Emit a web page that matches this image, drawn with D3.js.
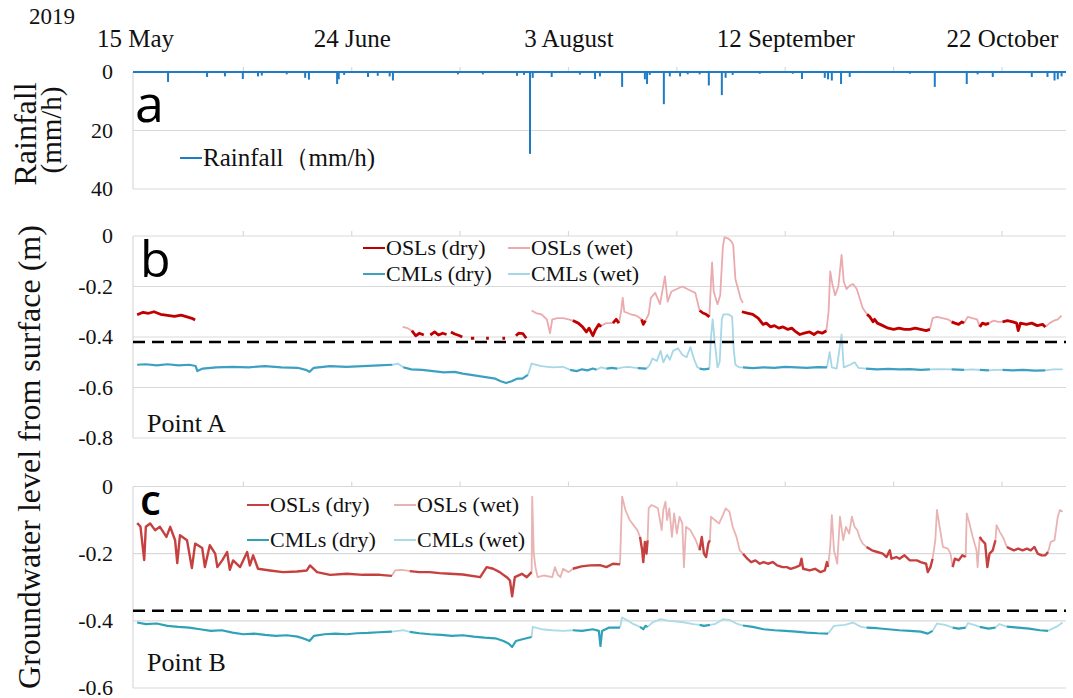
<!DOCTYPE html>
<html>
<head>
<meta charset="utf-8">
<script src="https://cdn.jsdelivr.net/npm/d3@7"></script>
<style>
  body { margin: 0; background: #fff; }
  svg { display: block; }
</style>
</head>
<body>
<svg id="chart" width="1073" height="698"></svg>
<script>
// ---- Time axis (days after 15 May 2019) ----
const dateTickDays = [0, 40, 80, 120, 160];
const dateTickLabels = ["15 May", "24 June", "3 August", "12 September", "22 October"];
const minorTickDays = [0, 20, 40, 60, 80, 100, 120, 140, 160];

// ---- Value axes ----
const rainTicks = [0, 20, 40];
const levelTicksA = [0, -0.2, -0.4, -0.6, -0.8];
const levelTicksB = [0, -0.2, -0.4, -0.6];

// Reference depth lines (m)
const thresholdA = -0.42;
const thresholdB = -0.37;

// ---- Hourly rainfall peaks [day, mm/h] ----
const rainfall = [
  [6.1,3.4],[13.3,1.7],[16.6,1.5],[19.9,2.4],[22.7,1.5],[23.4,1.2],[28.0,0.8],
  [31.4,2.0],[32.1,2.6],[37.3,4.1],[37.6,2.5],[38.6,1.0],[43.0,1.7],[44.8,1.3],
  [47.0,1.5],[47.6,2.9],[59.6,0.8],[64.2,0.8],[70.5,1.3],[71.8,1.0],[72.9,28],
  [73.4,2.0],[76.9,1.7],[82.1,0.9],[84.9,2.4],[85.8,1.5],[89.9,5.1],[94.1,2.5],
  [94.5,4.1],[95.0,1.0],[97.6,11],[98.7,1.5],[100.6,1.5],[102.0,0.8],[104.2,0.8],
  [105.9,4.6],[108.3,7.9],[109.0,2.0],[110.3,1.0],[115.3,0.6],[121.4,0.6],[123.1,2.4],
  [127.3,2.0],[127.9,2.5],[128.6,2.9],[130.3,4.1],[131.9,1.7],[143.0,0.6],[147.6,5.1],
  [153.5,4.1],[155.5,0.8],[158.3,1.7],[165.5,1.7],[168.4,1.7],[169.7,2.9],[170.3,2.5],[171.0,1.5]
];

// ---- Point A groundwater level [day, m]; null breaks the line ----
const oslDryA = [
  [0.4,-0.312],[1.5,-0.302],[2.5,-0.306],[3.5,-0.300],[4.7,-0.310],[6,-0.314],[7.3,-0.318],[8.5,-0.313],[9.6,-0.320],[10.5,-0.326],[11.1,-0.333], null,
  [51.1,-0.375],[51.8,-0.395],[52.5,-0.385],[53.3,-0.392], null,
  [54.5,-0.392],[55.3,-0.380],[56.0,-0.392],[56.8,-0.385],[57.5,-0.39], null,
  [58.3,-0.380],[59.0,-0.388],[59.7,-0.393],[60.4,-0.400], null,
  [62.0,-0.405],[62.6,-0.405], null,
  [64.8,-0.405],[65.3,-0.405], null,
  [67.8,-0.405],[68.3,-0.405], null,
  [70.3,-0.395],[70.8,-0.385],[71.6,-0.387],[72.2,-0.405], null,
  [80.8,-0.335],[81.8,-0.345],[82.6,-0.36],[83.3,-0.38],[83.8,-0.365],[84.5,-0.395],[85.0,-0.37],[85.6,-0.35],[86.0,-0.36], null,
  [88.2,-0.345],[88.8,-0.33],[89.3,-0.345], null,
  [93.5,-0.33],[93.8,-0.35],[94.2,-0.335], null,
  [104.2,-0.295],[104.8,-0.305],[105.4,-0.31],[106.0,-0.32], null,
  [112.0,-0.30],[113.0,-0.305],[114.0,-0.31],[115.0,-0.325],[115.9,-0.35],[116.5,-0.345],[117.3,-0.36],[118.0,-0.355],[118.8,-0.365],[119.6,-0.36],[120.5,-0.37],[121.2,-0.365],[122.0,-0.38],[122.7,-0.39],[123.5,-0.385],[124.5,-0.38],[125.3,-0.39],[126.0,-0.38],[126.8,-0.385],[127.6,-0.375], null,
  [135.1,-0.31],[135.6,-0.32],[136.2,-0.34],[136.5,-0.33],[137.0,-0.345],[138.0,-0.355],[139.0,-0.365],[140.0,-0.37],[141.0,-0.365],[142.0,-0.37],[143.0,-0.37],[144.0,-0.365],[145.0,-0.37],[146.0,-0.375],[146.7,-0.37], null,
  [150.7,-0.34],[151.3,-0.345],[152.0,-0.35],[152.6,-0.34],[153.0,-0.345], null,
  [155.9,-0.36],[156.4,-0.345],[157.0,-0.35],[157.6,-0.345], null,
  [160.1,-0.34],[161.0,-0.335],[162.0,-0.34],[162.7,-0.345],[163.0,-0.375],[163.4,-0.345],[164.5,-0.35],[165.5,-0.345],[166.5,-0.355],[167.5,-0.35],[168.0,-0.36]
];
const oslWetA = [
  [49.4,-0.36],[50.3,-0.365],[51.1,-0.375], null,
  [73.2,-0.295],[74.0,-0.305],[75.0,-0.31],[76.0,-0.33],[76.6,-0.385],[77.0,-0.33],[78.0,-0.325],[79.0,-0.325],[80.0,-0.33],[80.8,-0.335], null,
  [86.0,-0.355],[87.0,-0.345],[88.2,-0.345], null,
  [89.3,-0.345],[89.7,-0.30],[90.0,-0.245],[90.3,-0.30],[91.5,-0.31],[92.5,-0.315],[93.5,-0.33], null,
  [94.2,-0.335],[94.8,-0.31],[95.2,-0.245],[96.0,-0.225],[96.9,-0.27],[97.8,-0.16],[98.3,-0.26],[99.0,-0.22],[100.0,-0.21],[101.0,-0.20],[102.4,-0.215],[103.4,-0.225],[104.2,-0.295], null,
  [106.0,-0.32],[106.3,-0.18],[106.5,-0.105],[106.8,-0.22],[107.5,-0.27],[108.0,-0.235],[108.5,-0.04],[108.8,-0.005],[109.5,-0.01],[110.0,-0.02],[110.4,-0.035],[110.8,-0.17],[111.3,-0.21],[111.8,-0.25],[112.2,-0.265], null,
  [127.6,-0.375],[128.0,-0.30],[128.3,-0.14],[128.7,-0.19],[129.2,-0.235],[129.8,-0.20],[130.4,-0.075],[130.8,-0.18],[131.3,-0.21],[132.0,-0.195],[132.5,-0.19],[133.2,-0.21],[134.3,-0.285],[135.1,-0.31], null,
  [146.7,-0.37],[147.2,-0.325],[148.0,-0.32],[149.0,-0.325],[150.0,-0.33],[150.7,-0.34], null,
  [153.0,-0.345],[153.7,-0.32],[154.5,-0.325],[155.4,-0.33],[155.9,-0.36], null,
  [157.6,-0.345],[158.5,-0.335],[159.3,-0.34],[160.1,-0.34], null,
  [168.0,-0.36],[168.8,-0.345],[169.6,-0.335],[170.3,-0.33],[171.0,-0.315]
];
const cmlDryA = [
  [0.4,-0.51],[2,-0.508],[4,-0.512],[6,-0.508],[8,-0.512],[10,-0.51],[11.2,-0.515],[11.5,-0.535],[12.5,-0.525],[15,-0.52],[18,-0.518],[21,-0.52],[24,-0.515],[27,-0.52],[30,-0.522],[31.5,-0.53],[32.2,-0.538],[33,-0.522],[36,-0.515],[39,-0.518],[42,-0.515],[45,-0.512],[47.5,-0.51], null,
  [49.5,-0.52],[51,-0.528],[53,-0.53],[55,-0.535],[57,-0.54],[59,-0.538],[60.5,-0.545],[62,-0.55],[63.5,-0.555],[65,-0.56],[66.5,-0.565],[67.5,-0.575],[68.5,-0.582],[69.5,-0.575],[70.5,-0.565],[71.5,-0.565],[72.5,-0.55], null,
  [80.3,-0.53],[81.5,-0.535],[82.5,-0.528],[83.5,-0.532],[84.5,-0.525],[85.2,-0.53], null,
  [87.0,-0.525],[88.0,-0.522],[89.0,-0.525], null,
  [92.8,-0.523],[94.4,-0.525], null,
  [104.2,-0.525],[105.0,-0.528],[106.0,-0.525], null,
  [112.2,-0.52],[114,-0.523],[116,-0.52],[118,-0.522],[120,-0.518],[122,-0.52],[124,-0.522],[126,-0.519],[127.7,-0.52], null,
  [134.9,-0.525],[137,-0.528],[139,-0.526],[141,-0.528],[143,-0.527],[145,-0.53],[146.7,-0.528], null,
  [150.7,-0.528],[153.0,-0.53], null,
  [155.9,-0.53],[157.6,-0.532], null,
  [160.1,-0.53],[162,-0.532],[164,-0.53],[166,-0.533],[168,-0.532]
];
const cmlWetA = [
  [47.5,-0.51],[48.5,-0.505],[49.5,-0.52], null,
  [72.5,-0.55],[73.2,-0.505],[75,-0.515],[77,-0.52],[79,-0.518],[80.3,-0.53], null,
  [85.2,-0.53],[86,-0.52],[87,-0.525], null,
  [89,-0.525],[90,-0.52],[91,-0.518],[92.8,-0.523], null,
  [94.4,-0.525],[95,-0.51],[95.5,-0.485],[96.3,-0.495],[97,-0.455],[97.5,-0.50],[98.2,-0.47],[98.7,-0.49],[99.3,-0.455],[100.2,-0.445],[101,-0.47],[101.8,-0.48],[102.5,-0.44],[103.2,-0.49],[103.8,-0.52],[104.2,-0.525], null,
  [106,-0.525],[106.3,-0.40],[106.6,-0.33],[107.0,-0.42],[107.5,-0.52],[107.9,-0.50],[108.3,-0.33],[108.6,-0.31],[109.5,-0.31],[110.2,-0.32],[110.5,-0.45],[110.8,-0.51],[111.5,-0.52],[112.2,-0.52], null,
  [127.7,-0.52],[128.2,-0.46],[128.6,-0.52],[129.5,-0.525],[130.4,-0.39],[130.8,-0.52],[132.0,-0.51],[132.8,-0.50],[133.5,-0.522],[134.9,-0.525], null,
  [146.7,-0.528],[148.5,-0.527],[150.7,-0.528], null,
  [153,-0.53],[154.5,-0.528],[155.9,-0.53], null,
  [157.6,-0.532],[158.8,-0.53],[160.1,-0.53], null,
  [168,-0.532],[169.5,-0.528],[171.2,-0.528]
];

// ---- Point B groundwater level [day, m] ----
const oslDryB = [
  [0.4,-0.109],[1.0,-0.119],[1.7,-0.219],[2.0,-0.12],[2.8,-0.11],[3.7,-0.13],[4.6,-0.12],[5.8,-0.15],[6.5,-0.12],[7.4,-0.16],[7.8,-0.228],[8.3,-0.145],[9.6,-0.16],[10.5,-0.243],[11.1,-0.17],[12.4,-0.183],[12.9,-0.24],[13.8,-0.175],[14.8,-0.20],[15.2,-0.24],[16.1,-0.22],[17.0,-0.195],[17.5,-0.248],[18.1,-0.22],[19.4,-0.24],[20.7,-0.195],[21.2,-0.235],[21.8,-0.205],[22.7,-0.245],[24.9,-0.25],[27.3,-0.255],[29.9,-0.253],[31.7,-0.25],[32.3,-0.235],[33.6,-0.255],[36.0,-0.263],[39.1,-0.26],[42.1,-0.263],[45.2,-0.263],[47.4,-0.266], null,
  [50.7,-0.252],[52.5,-0.255],[54.4,-0.255],[56.2,-0.258],[58.1,-0.26],[60.5,-0.262],[63.7,-0.27],[64.9,-0.24],[66.1,-0.245],[67.3,-0.255],[68.6,-0.27],[69.2,-0.28],[69.6,-0.327],[70.1,-0.27],[71.4,-0.26],[72.3,-0.27],[73.2,-0.255], null,
  [80.8,-0.245],[82.4,-0.238],[84.0,-0.235],[85.8,-0.234],[87.0,-0.24],[88.2,-0.23],[89.5,-0.232], null,
  [93.2,-0.15],[93.6,-0.19],[93.8,-0.225],[94.1,-0.165],[94.4,-0.20],[94.6,-0.16], null,
  [104.2,-0.19],[104.6,-0.15],[105.0,-0.20],[105.4,-0.21],[105.8,-0.17],[106.1,-0.16], null,
  [112.2,-0.20],[113,-0.215],[113.7,-0.225],[114.5,-0.22],[115.3,-0.23],[116.0,-0.225],[116.8,-0.23],[117.7,-0.225],[118.5,-0.235],[119.5,-0.24],[120.3,-0.24],[121.0,-0.245],[122.0,-0.24],[122.7,-0.235],[123.0,-0.215],[123.3,-0.245],[124.5,-0.25],[125.5,-0.245],[126.5,-0.255],[127.3,-0.25],[127.7,-0.225],[127.9,-0.24], null,
  [135.0,-0.18],[136,-0.19],[137,-0.195],[138,-0.20],[138.7,-0.21],[139.3,-0.19],[139.6,-0.215],[140.5,-0.21],[141.1,-0.215],[142,-0.205],[143,-0.22],[144.3,-0.22],[145,-0.225],[146,-0.23],[146.3,-0.255],[146.8,-0.24],[147.2,-0.215], null,
  [150.9,-0.24],[151.3,-0.215],[152.0,-0.22],[152.7,-0.205],[153.3,-0.21], null,
  [155.9,-0.15],[156.3,-0.16],[156.9,-0.17],[157.3,-0.24],[157.7,-0.20],[158.3,-0.19],[158.8,-0.16], null,
  [160.9,-0.18],[161.5,-0.185],[162.2,-0.19],[163,-0.185],[163.8,-0.19],[164.6,-0.185],[165.3,-0.19],[166.0,-0.18],[166.6,-0.20],[167.3,-0.205],[168.0,-0.205],[168.5,-0.195]
];
const oslWetB = [
  [47.4,-0.266],[48,-0.25],[49,-0.248],[50,-0.25],[50.7,-0.252], null,
  [73.2,-0.255],[73.3,-0.03],[73.6,-0.20],[73.9,-0.24],[74.3,-0.27],[75.5,-0.265],[77,-0.27],[77.5,-0.24],[78.0,-0.262],[78.5,-0.27],[79.0,-0.245],[80.0,-0.255],[80.8,-0.245], null,
  [89.5,-0.232],[89.9,-0.03],[90.5,-0.07],[91.3,-0.10],[92.0,-0.115],[92.7,-0.13],[93.2,-0.15], null,
  [94.6,-0.16],[94.8,-0.065],[95.3,-0.055],[96.0,-0.06],[96.5,-0.065],[97.2,-0.13],[97.5,-0.07],[97.9,-0.045],[98.2,-0.10],[98.6,-0.065],[99.1,-0.15],[99.5,-0.08],[100.0,-0.14],[100.5,-0.09],[101.0,-0.11],[101.3,-0.24],[101.7,-0.12],[102.5,-0.13],[103.5,-0.16],[104.2,-0.19], null,
  [106.1,-0.16],[106.3,-0.09],[107.0,-0.10],[107.8,-0.11],[108.5,-0.085],[109.0,-0.065],[109.7,-0.075],[110.3,-0.12],[111.0,-0.15],[111.6,-0.19],[112.2,-0.20], null,
  [127.9,-0.24],[128.3,-0.18],[128.6,-0.085],[129.0,-0.19],[129.6,-0.23],[130.1,-0.09],[130.7,-0.16],[131.2,-0.12],[131.8,-0.14],[132.3,-0.09],[132.8,-0.12],[133.3,-0.13],[133.8,-0.155],[134.3,-0.17],[135.0,-0.18], null,
  [147.2,-0.215],[147.7,-0.16],[148.0,-0.07],[148.5,-0.12],[149.1,-0.18],[150.0,-0.185],[150.5,-0.20],[150.9,-0.24], null,
  [153.3,-0.21],[153.5,-0.08],[154.0,-0.11],[154.6,-0.15],[155.3,-0.19],[155.5,-0.24],[155.9,-0.15], null,
  [158.8,-0.16],[159.0,-0.115],[159.6,-0.135],[160.3,-0.155],[160.9,-0.18], null,
  [168.5,-0.195],[169.0,-0.165],[169.7,-0.16],[170.3,-0.09],[170.7,-0.07],[171.2,-0.075]
];
const cmlDryB = [
  [0.4,-0.405],[2,-0.41],[4,-0.408],[6,-0.415],[8,-0.418],[10,-0.42],[12,-0.425],[14,-0.43],[16,-0.428],[18,-0.435],[20,-0.44],[22,-0.438],[24,-0.442],[26,-0.445],[28,-0.443],[30,-0.447],[31.5,-0.455],[32.2,-0.46],[33,-0.445],[35,-0.44],[37,-0.438],[39,-0.44],[41,-0.437],[43,-0.436],[45,-0.434],[47.4,-0.432], null,
  [50.7,-0.433],[52.5,-0.437],[54.5,-0.44],[56.5,-0.442],[58.5,-0.445],[60.5,-0.443],[62.5,-0.447],[64.5,-0.45],[66.5,-0.452],[68.0,-0.46],[69.0,-0.468],[69.6,-0.478],[70.3,-0.46],[71.5,-0.455],[73.2,-0.448], null,
  [80.8,-0.428],[82.5,-0.43],[84.5,-0.425],[85.6,-0.43],[85.9,-0.475],[86.2,-0.43],[87.5,-0.42],[89.5,-0.42], null,
  [93.2,-0.418],[93.8,-0.425],[94.2,-0.415],[94.6,-0.418], null,
  [104.2,-0.412],[105,-0.415],[106.1,-0.412], null,
  [112.2,-0.414],[114,-0.418],[116,-0.425],[118,-0.428],[120,-0.43],[122,-0.432],[124,-0.435],[126,-0.437],[127.9,-0.438], null,
  [135.0,-0.42],[137,-0.422],[139,-0.425],[141,-0.428],[143,-0.43],[145,-0.432],[146.3,-0.438],[147.2,-0.43], null,
  [150.9,-0.42],[152,-0.423],[153.3,-0.42], null,
  [155.9,-0.418],[157.5,-0.423],[158.8,-0.42], null,
  [160.9,-0.417],[163,-0.42],[165,-0.423],[167,-0.428],[168.5,-0.43]
];
const cmlWetB = [
  [47.4,-0.432],[48.5,-0.43],[49.5,-0.428],[50.7,-0.433], null,
  [73.2,-0.448],[73.4,-0.418],[75,-0.425],[77,-0.428],[79,-0.43],[80.8,-0.428], null,
  [89.5,-0.42],[89.9,-0.39],[91.0,-0.40],[92.0,-0.41],[93.2,-0.418], null,
  [94.6,-0.418],[95.5,-0.405],[97,-0.395],[98.5,-0.40],[100,-0.402],[101.5,-0.405],[103,-0.41],[104.2,-0.412], null,
  [106.1,-0.412],[107,-0.41],[108.5,-0.395],[109.8,-0.398],[111,-0.408],[112.2,-0.414], null,
  [127.9,-0.438],[129,-0.415],[131,-0.412],[132.5,-0.405],[134,-0.418],[135.0,-0.42], null,
  [147.2,-0.43],[148,-0.408],[149.5,-0.412],[150.9,-0.42], null,
  [153.3,-0.42],[153.7,-0.407],[155,-0.413],[155.9,-0.418], null,
  [158.8,-0.42],[159.5,-0.41],[160.9,-0.417], null,
  [168.5,-0.43],[170,-0.418],[171.2,-0.405]
];

// ---- Drawing ----
const svg = d3.select("#chart");
const serif = "'Liberation Serif', 'Times New Roman', serif";
const sans = "'Open Sans', 'Noto Sans', sans-serif";
const gridColor = "#d9d9d9";
const left = 133, right = 1066;

const x = d3.scaleLinear().domain([0, 172]).range([135, 1067]);

const panels = [
  { key: "a", y: d3.scaleLinear().domain([0, 40]).range([72, 189]), ticks: rainTicks },
  { key: "b", y: d3.scaleLinear().domain([0, -0.8]).range([236, 438]), ticks: levelTicksA },
  { key: "c", y: d3.scaleLinear().domain([0, -0.6]).range([486.5, 688]), ticks: levelTicksB }
];

const fmtLevel = d => d === 0 ? "0" : d.toFixed(1);

panels.forEach(p => {
  const g = svg.append("g");
  // horizontal grid
  g.selectAll("line.grid").data(p.ticks).join("line")
    .attr("x1", left).attr("x2", right)
    .attr("y1", d => p.y(d)).attr("y2", d => p.y(d))
    .attr("stroke", gridColor).attr("stroke-width", 1.2);
  // left axis line
  g.append("line")
    .attr("x1", left).attr("x2", left)
    .attr("y1", p.y.range()[0]).attr("y2", p.y.range()[1])
    .attr("stroke", gridColor).attr("stroke-width", 1.2);
  // short date ticks along the top edge
  g.selectAll("line.mtick").data(minorTickDays.slice(1)).join("line")
    .attr("x1", d => x(d)).attr("x2", d => x(d))
    .attr("y1", p.y.range()[0] - 5).attr("y2", p.y.range()[0])
    .attr("stroke", gridColor).attr("stroke-width", 1.2);
  // value axis labels
  const axis = d3.axisLeft(p.y).tickValues(p.ticks).tickSize(0).tickPadding(0)
    .tickFormat(p.key === "a" ? d3.format("d") : fmtLevel);
  const ag = g.append("g").attr("transform", `translate(113,0)`).call(axis);
  ag.select(".domain").remove();
  ag.selectAll("text").attr("font-family", serif).attr("font-size", 22)
    .attr("fill", "#111").attr("dy", "0.3em");
});

// date labels along the top
const dateAxis = d3.axisTop(x).tickValues(dateTickDays).tickSize(0).tickPadding(0)
  .tickFormat((d, i) => dateTickLabels[i]);
const dg = svg.append("g").attr("transform", "translate(0,47)").call(dateAxis);
dg.select(".domain").remove();
dg.selectAll("text").attr("font-family", serif).attr("font-size", 25).attr("fill", "#111").attr("dy", 0).attr("y", 0);

svg.append("text").attr("x", 29).attr("y", 24).attr("font-family", serif)
  .attr("font-size", 23).attr("fill", "#111").text("2019");

// ---- Panel a: rainfall ----
const yRain = panels[0].y;
svg.append("line").attr("x1", left).attr("x2", right)
  .attr("y1", yRain(0)).attr("y2", yRain(0))
  .attr("stroke", "#1f7bc4").attr("stroke-width", 2);
svg.append("g").selectAll("line").data(rainfall).join("line")
  .attr("x1", d => x(d[0])).attr("x2", d => x(d[0]))
  .attr("y1", yRain(0)).attr("y2", d => yRain(d[1]))
  .attr("stroke", "#1f7bc4").attr("stroke-width", 2);

// ---- Panels b & c: groundwater lines ----
const drawSeries = (yScale, data, color, width) => {
  const line = d3.line().defined(d => d !== null)
    .x(d => x(d[0])).y(d => yScale(d[1]));
  svg.append("path").datum(data).attr("d", line)
    .attr("fill", "none").attr("stroke", color)
    .attr("stroke-width", width).attr("stroke-linejoin", "round");
};

const colorsA = { oslDry: "#c00000", oslWet: "#eaaaae", cmlDry: "#3da0c2", cmlWet: "#a6d7e6" };
const colorsB = { oslDry: "#c5403e", oslWet: "#e9b3b3", cmlDry: "#2fa2b8", cmlWet: "#aadbe6" };

const yA = panels[1].y, yB = panels[2].y;
drawSeries(yA, cmlWetA, colorsA.cmlWet, 1.8);
drawSeries(yA, cmlDryA, colorsA.cmlDry, 2.2);
drawSeries(yA, oslWetA, colorsA.oslWet, 1.8);
drawSeries(yA, oslDryA, colorsA.oslDry, 2.8);

drawSeries(yB, cmlWetB, colorsB.cmlWet, 1.8);
drawSeries(yB, cmlDryB, colorsB.cmlDry, 2.2);
drawSeries(yB, oslWetB, colorsB.oslWet, 1.8);
drawSeries(yB, oslDryB, colorsB.oslDry, 2.4);

// reference depth lines
[[yA, thresholdA], [yB, thresholdB]].forEach(([ys, v]) => {
  svg.append("line").attr("x1", left).attr("x2", right)
    .attr("y1", ys(v)).attr("y2", ys(v))
    .attr("stroke", "#000").attr("stroke-width", 2.6)
    .attr("stroke-dasharray", "12,7");
});

// ---- Panel letters and point names ----
const letter = (t, xp, yp, size, weight) => svg.append("text")
  .attr("x", xp).attr("y", yp).attr("font-family", sans)
  .attr("font-size", size).attr("font-weight", weight).attr("fill", "#000").text(t);
letter("a", 135, 122, 52, 400);
letter("b", 140, 277, 50, 400);
letter("c", 140, 515, 42, 600);

const plain = (t, xp, yp, size) => svg.append("text")
  .attr("x", xp).attr("y", yp).attr("font-family", serif)
  .attr("font-size", size).attr("fill", "#111").text(t);
plain("Point A", 147, 432, 26);
plain("Point B", 147, 671, 26);

// ---- Axis titles ----
const vtitle = (t, cx, cy, size) => svg.append("text")
  .attr("transform", `translate(${cx},${cy}) rotate(-90)`)
  .attr("text-anchor", "middle").attr("font-family", serif)
  .attr("font-size", size).attr("fill", "#111").text(t);
vtitle("Rainfall", 36, 134, 32);
vtitle("(mm/h)", 61, 130, 29);
vtitle("Groundwater level from surface (m)", 40, 457, 32);

// ---- Legends ----
const legendItem = (x0, yc, color, label, size) => {
  svg.append("line").attr("x1", x0).attr("x2", x0 + 22)
    .attr("y1", yc).attr("y2", yc).attr("stroke", color).attr("stroke-width", 2);
  svg.append("text").attr("x", x0 + 23).attr("y", yc).attr("dy", "0.33em")
    .attr("font-family", serif).attr("font-size", size).attr("fill", "#111").text(label);
};
legendItem(180, 158, "#1f7bc4", "Rainfall（mm/h)", 25);

legendItem(363, 248, colorsA.oslDry, "OSLs (dry)", 22);
legendItem(508, 248, colorsA.oslWet, "OSLs (wet)", 22);
legendItem(363, 274, colorsA.cmlDry, "CMLs (dry)", 22);
legendItem(508, 274, colorsA.cmlWet, "CMLs (wet)", 22);

legendItem(247, 505, colorsB.oslDry, "OSLs (dry)", 22);
legendItem(394, 505, colorsB.oslWet, "OSLs (wet)", 22);
legendItem(247, 540, colorsB.cmlDry, "CMLs (dry)", 22);
legendItem(394, 540, colorsB.cmlWet, "CMLs (wet)", 22);
</script>
</body>
</html>
